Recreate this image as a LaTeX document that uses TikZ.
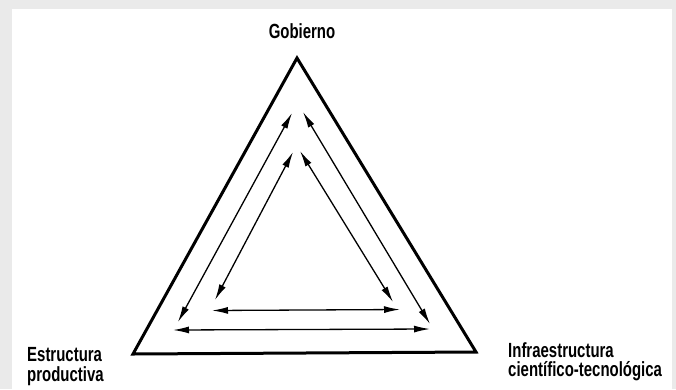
\documentclass[tikz,border=0pt]{standalone}
\usepackage{fontspec}
\setmainfont{Liberation Sans}[FakeStretch=0.73]
\usetikzlibrary{arrows.meta}
\definecolor{bg}{RGB}{234,234,234}
\tikzset{
  lbl/.style={inner sep=0pt, align=left, font=\bfseries\fontsize{20.5}{19.5}\selectfont},
  frame/.style={line width=3pt, line join=miter},
  link/.style={line width=1.3pt, {Latex[length=16pt,width=7pt]}-{Latex[length=16pt,width=7pt]}}
}
\begin{document}
\begin{tikzpicture}[x=1pt,y=-1pt]
\useasboundingbox (0,0) rectangle (676,389);
\fill[bg] (0,0) rectangle (676,389);
\fill[white] (12,9) rectangle (672,389);
% triangle corners
\coordinate (G) at (297,58);
\coordinate (E) at (133,354);
\coordinate (I) at (476,352);
\draw[frame] (G) -- (I) -- (E) -- cycle;
% labels
\node[lbl, anchor=base] (gob) at (302,38) {Gobierno};
\node[lbl, anchor=base west] (est) at (27,381) {Estructura\\productiva};
\node[lbl, anchor=base west] (inf) at (508,376.5) {Infraestructura\\científico-tecnológica};
% arrow end points
\coordinate (olt) at (292,113);
\coordinate (olb) at (178,322);
\coordinate (ilt) at (293,152);
\coordinate (ilb) at (215,300);
\coordinate (ort) at (303,112);
\coordinate (orb) at (430,324);
\coordinate (irt) at (300,151);
\coordinate (irb) at (393,302);
\coordinate (ohl) at (173,330);
\coordinate (ohr) at (430,329);
\coordinate (ihl) at (212,310.5);
\coordinate (ihr) at (400,309.5);
\draw[link] (olb) -- (olt);
\draw[link] (ilb) -- (ilt);
\draw[link] (ort) -- (orb);
\draw[link] (irt) -- (irb);
\draw[link] (ohl) -- (ohr);
\draw[link] (ihl) -- (ihr);
\end{tikzpicture}
\end{document}
